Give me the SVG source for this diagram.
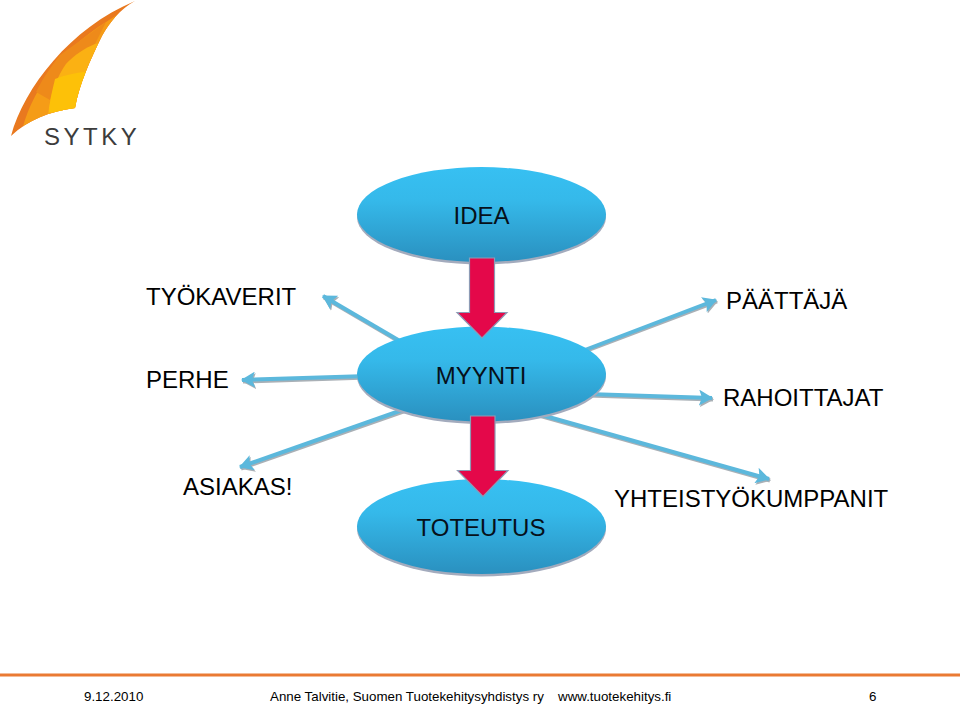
<svg xmlns="http://www.w3.org/2000/svg" width="960" height="704" viewBox="0 0 960 704">
<style>
text{font-family:"Liberation Sans",Arial,sans-serif;fill:#000}
.l{font-size:24px}
.n{font-size:24px;text-anchor:middle;fill:#06101a}
.f{font-size:13.330px}
.conn{fill:none;stroke:#5cb8dc;stroke-width:4}
.connS{fill:none;stroke:#a9b0b6;stroke-width:4}
.head{fill:#5cb8dc}
.headS{fill:#a9b0b6}
.ov{fill:url(#blue)}
.ovS{fill:#a3abbd}
.red{fill:#e4084a;stroke:#8d9bb5;stroke-width:1.2}
</style>
<defs>
<linearGradient id="blue" x1="0" y1="0" x2="0" y2="1">
<stop offset="0" stop-color="#37c0f2"/><stop offset="0.35" stop-color="#35b9ea"/><stop offset="1" stop-color="#2a90bf"/>
</linearGradient>
<marker id="ah" viewBox="0 0 14 16" refX="13" refY="8" markerWidth="14" markerHeight="16" markerUnits="userSpaceOnUse" orient="auto"><path class="head" d="M0 0L14 8L0 16L3 8Z"/></marker>
<marker id="ahS" viewBox="0 0 14 16" refX="13" refY="8" markerWidth="14" markerHeight="16" markerUnits="userSpaceOnUse" orient="auto"><path class="headS" d="M0 0L14 8L0 16L3 8Z"/></marker>
<clipPath id="sail"><path d="M11 136C24 88 70 28 135 1C120 9 110 22 102 36C90 60 79 85 75 108C50 111 28 120 11 136Z"/></clipPath>
</defs>
<rect width="960" height="704" fill="#fff"/>
<g id="logo">
<g clip-path="url(#sail)">
<rect x="0" y="0" width="140" height="140" fill="#e9791f"/>
<path d="M20 140C28 95 58 52 106 22L140 0V120L20 140Z" fill="#f59c17"/>
<path d="M60 55C50 68 43 78 36 92L50 100C54 84 60 72 68 62L95 44L106 22Z" fill="#ee8a1a"/>
<path d="M48 115C50 95 58 75 66 64C74 55 85 48 95 44L120 40L100 115Z" fill="#fbb113"/>
<path d="M49 112C50 98 53 88 55 79C65 75 75 73 83 72L90 72L80 115Z" fill="#fdc108"/>
</g>
<text x="44" y="145" style="font-size:24px;letter-spacing:3.500px;fill:#3c3c3c">SYTKY</text>
</g>
<g id="connectors">
<path class="connS" marker-end="url(#ahS)" d="M406 345.500L324 297.500"/>
<path class="connS" marker-end="url(#ahS)" d="M368 377.500L243 381.500"/>
<path class="connS" marker-end="url(#ahS)" d="M409 409.500L241 468.500"/>
<path class="connS" marker-end="url(#ahS)" d="M578 354L717 301.500"/>
<path class="connS" marker-end="url(#ahS)" d="M588 395.500L713 399.500"/>
<path class="connS" marker-end="url(#ahS)" d="M539 415.500L770 480.500"/>
<path class="conn" marker-end="url(#ah)" d="M405 344L323 296"/>
<path class="conn" marker-end="url(#ah)" d="M368 376L242 380"/>
<path class="conn" marker-end="url(#ah)" d="M408 408L240 467"/>
<path class="conn" marker-end="url(#ah)" d="M577 353L716 300"/>
<path class="conn" marker-end="url(#ah)" d="M587 394L712 398"/>
<path class="conn" marker-end="url(#ah)" d="M538 414L769 479"/>
</g>
<g id="idea">
<ellipse class="ovS" cx="481.500" cy="217" rx="124.500" ry="47.500"/>
<ellipse class="ov" cx="481.500" cy="214.500" rx="124.500" ry="47.500"/>
<text class="n" x="481.500" y="224">IDEA</text>
</g>
<g id="myynti">
<ellipse class="ovS" cx="481.500" cy="376.500" rx="124.500" ry="47.500"/>
<ellipse class="ov" cx="481.500" cy="374" rx="124.500" ry="47.500"/>
<text class="n" x="481" y="384">MYYNTI</text>
</g>
<g id="toteutus">
<ellipse class="ovS" cx="481.500" cy="529" rx="124.500" ry="47.500"/>
<ellipse class="ov" cx="481.500" cy="526.500" rx="124.500" ry="47.500"/>
<text class="n" x="481" y="536">TOTEUTUS</text>
</g>
<g id="arrow-idea-myynti">
<path class="red" d="M469.500 258H494.500V312.500H507L482 338L457 312.500H469.500Z"/>
</g>
<g id="arrow-myynti-toteutus">
<path class="red" d="M470.500 416H495V470.500H508L483 496.500L457.500 470.500H470.500Z"/>
</g>
<g id="tyokaverit"><text class="l" x="146" y="305">TYÖKAVERIT</text></g>
<g id="perhe"><text class="l" x="146" y="388">PERHE</text></g>
<g id="asiakas"><text class="l" x="183" y="495">ASIAKAS!</text></g>
<g id="paattaja"><text class="l" x="726" y="309">PÄÄTTÄJÄ</text></g>
<g id="rahoittajat"><text class="l" x="723" y="406">RAHOITTAJAT</text></g>
<g id="yhteistyokumppanit"><text class="l" x="614" y="507">YHTEISTYÖKUMPPANIT</text></g>
<g id="footer">
<rect x="0" y="673.500" width="960" height="3" fill="#ea7a33"/>
<text class="f" x="84" y="701">9.12.2010</text>
<text class="f" x="270" y="701">Anne Talvitie, Suomen Tuotekehitysyhdistys ry</text>
<text class="f" x="558" y="701">www.tuotekehitys.fi</text>
<text class="f" x="869" y="701">6</text>
</g>
</svg>
